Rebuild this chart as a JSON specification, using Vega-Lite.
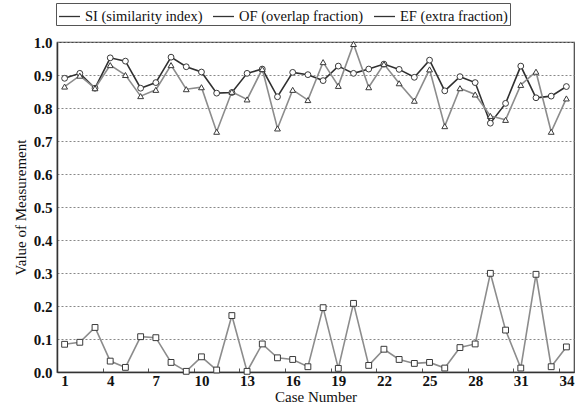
{
  "$schema": "https://vega.github.io/schema/vega-lite/v6.json",
  "width": 517,
  "height": 330,
  "autosize": {"type": "none"},
  "padding": {"left": 57, "top": 42, "right": 3, "bottom": 42},
  "background": "white",
  "config": {
    "font": "Liberation Serif",
    "view": {"stroke": "#444", "strokeWidth": 1.2},
    "axis": {"labelFont": "Liberation Serif", "titleFont": "Liberation Serif", "labelColor": "#111", "titleColor": "#111", "domainColor": "#333", "domainWidth": 1.5}
  },
  "datasets": {
    "rows": [
      {"c":1,"SI":0.89,"OF":0.865,"EF":0.084},
      {"c":2,"SI":0.905,"OF":0.898,"EF":0.09},
      {"c":3,"SI":0.86,"OF":0.86,"EF":0.135},
      {"c":4,"SI":0.952,"OF":0.93,"EF":0.033},
      {"c":5,"SI":0.942,"OF":0.9,"EF":0.014},
      {"c":6,"SI":0.86,"OF":0.836,"EF":0.107},
      {"c":7,"SI":0.877,"OF":0.855,"EF":0.104},
      {"c":8,"SI":0.954,"OF":0.93,"EF":0.029},
      {"c":9,"SI":0.925,"OF":0.857,"EF":0.002},
      {"c":10,"SI":0.909,"OF":0.863,"EF":0.046},
      {"c":11,"SI":0.845,"OF":0.728,"EF":0.006},
      {"c":12,"SI":0.847,"OF":0.849,"EF":0.171},
      {"c":13,"SI":0.905,"OF":0.826,"EF":0.002},
      {"c":14,"SI":0.918,"OF":0.918,"EF":0.085},
      {"c":15,"SI":0.834,"OF":0.738,"EF":0.043},
      {"c":16,"SI":0.908,"OF":0.855,"EF":0.038},
      {"c":17,"SI":0.901,"OF":0.824,"EF":0.016},
      {"c":18,"SI":0.883,"OF":0.939,"EF":0.195},
      {"c":19,"SI":0.927,"OF":0.867,"EF":0.011},
      {"c":20,"SI":0.905,"OF":0.994,"EF":0.208},
      {"c":21,"SI":0.918,"OF":0.863,"EF":0.02},
      {"c":22,"SI":0.933,"OF":0.933,"EF":0.069},
      {"c":23,"SI":0.917,"OF":0.875,"EF":0.038},
      {"c":24,"SI":0.893,"OF":0.822,"EF":0.026},
      {"c":25,"SI":0.945,"OF":0.917,"EF":0.029},
      {"c":26,"SI":0.852,"OF":0.745,"EF":0.012},
      {"c":27,"SI":0.895,"OF":0.86,"EF":0.074},
      {"c":28,"SI":0.877,"OF":0.841,"EF":0.085},
      {"c":29,"SI":0.754,"OF":0.776,"EF":0.299},
      {"c":30,"SI":0.814,"OF":0.764,"EF":0.127},
      {"c":31,"SI":0.927,"OF":0.87,"EF":0.012},
      {"c":32,"SI":0.831,"OF":0.91,"EF":0.296},
      {"c":33,"SI":0.836,"OF":0.728,"EF":0.016},
      {"c":34,"SI":0.865,"OF":0.829,"EF":0.076}
    ]
  },
  "data": {"name": "rows"},
  "transform": [
    {"fold": ["SI", "OF", "EF"], "as": ["key", "value"]},
    {"lookup": "key", "from": {"data": {"values": [
      {"key": "SI", "series": "SI (similarity index)"},
      {"key": "OF", "series": "OF (overlap fraction)"},
      {"key": "EF", "series": "EF (extra fraction)"}
    ]}, "key": "key", "fields": ["series"]}}
  ],
  "encoding": {
    "x": {
      "field": "c", "type": "quantitative",
      "scale": {"domain": [0.5, 34.5], "nice": false, "zero": false},
      "axis": {
        "title": "Case Number", "titleFontSize": 15, "titleFontWeight": "normal", "titlePadding": 1,
        "values": [1,3.5,4,6.5,7,9.5,10,12.5,13,15.5,16,18.5,19,21.5,22,24.5,25,27.5,28,30.5,31,33.5,34],
        "labelExpr": "datum.value % 1 == 0 ? datum.label : ''",
        "labelFontSize": 15, "labelFontWeight": "bold", "labelPadding": 5, "grid": false,
        "tickSize": -4, "tickColor": "#555",
        "tickOpacity": {"condition": {"test": "datum.value % 1 == 0", "value": 0}, "value": 1}
      }
    },
    "y": {
      "field": "value", "type": "quantitative",
      "scale": {"domain": [0, 1], "nice": false},
      "axis": {
        "title": "Value of Measurement", "titleFontSize": 15, "titleFontWeight": "normal", "titlePadding": 5,
        "values": [0,0.1,0.2,0.3,0.4,0.5,0.6,0.7,0.8,0.9,1.0], "format": ".1f",
        "labelFontSize": 15, "labelFontWeight": "bold", "labelPadding": 5, "ticks": false,
        "grid": true, "gridDash": [2, 2], "gridColor": "#888", "gridWidth": 1
      }
    }
  },
  "resolve": {"scale": {"shape": "independent"}, "legend": {"shape": "independent"}},
  "layer": [
    {
      "mark": {"type": "line", "strokeWidth": 1.6},
      "encoding": {
        "detail": {"field": "key"},
        "color": {"field": "key", "type": "nominal", "legend": null,
          "scale": {"domain": ["SI", "OF", "EF"], "range": ["#303030", "#8c8c8c", "#8c8c8c"]}}
      }
    },
    {
      "mark": {"type": "point", "filled": true, "fill": "white", "stroke": "#3a3a3a", "strokeWidth": 1, "opacity": 1, "size": 34},
      "encoding": {
        "shape": {
          "field": "key", "type": "nominal", "legend": null,
          "scale": {"domain": ["SI", "OF", "EF"], "range": ["circle", "triangle-up", "square"]}
        }
      }
    },
    {
      "transform": [{"filter": "datum.c > 1000"}],
      "mark": {"type": "point", "filled": false, "stroke": "#333", "strokeWidth": 1.3, "opacity": 1, "size": 441},
      "encoding": {
        "shape": {
          "field": "series", "type": "nominal",
          "scale": {
            "domain": ["SI (similarity index)", "OF (overlap fraction)", "EF (extra fraction)"],
            "range": ["stroke", "stroke", "stroke"]
          },
          "legend": {
            "title": null, "orient": "none", "legendX": -1, "legendY": -39, "direction": "horizontal",
            "strokeColor": "#555", "padding": 2, "fillColor": "white",
            "labelFont": "Liberation Serif", "labelFontSize": 14.5, "labelColor": "#111",
            "symbolSize": 441, "symbolStrokeColor": "#333", "symbolStrokeWidth": 1.3, "symbolOpacity": 1,
            "labelOffset": 4, "columnPadding": 7
          }
        }
      }
    }
  ]
}
